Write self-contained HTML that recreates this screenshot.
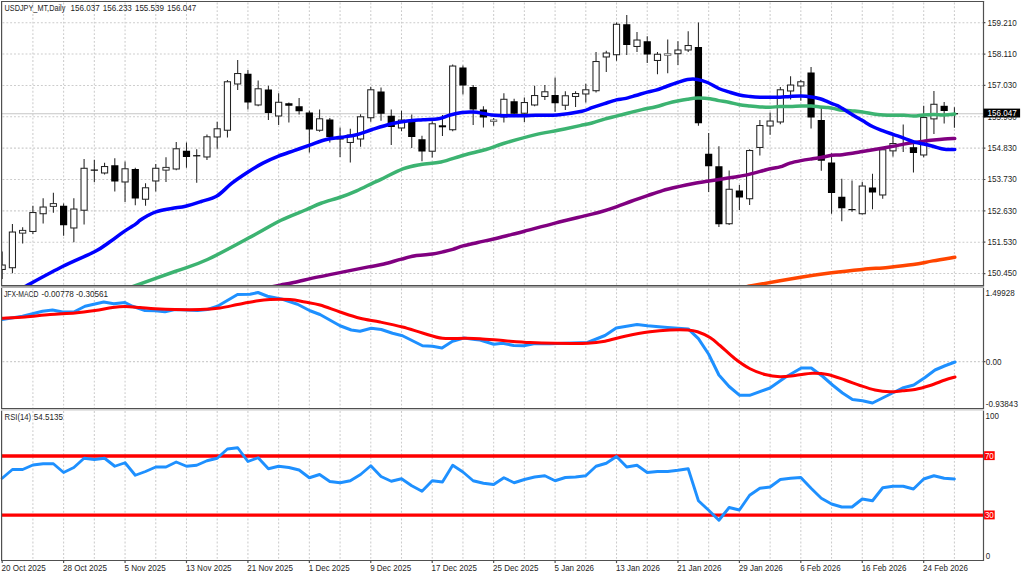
<!DOCTYPE html>
<html><head><meta charset="utf-8"><title>USDJPY_MT Daily</title>
<style>html,body{margin:0;padding:0;background:#fff;overflow:hidden}body{width:1024px;height:576px;position:relative;font-family:"Liberation Sans",sans-serif}</style></head>
<body>
<svg width="1024" height="576" viewBox="0 0 1024 576" style="position:absolute;left:0;top:0">
<rect width="1024" height="576" fill="#fff"/>
<defs>
<clipPath id="cm"><rect x="2.1" y="2.1" width="980.8" height="283"/></clipPath>
<clipPath id="c2"><rect x="2.1" y="288" width="980.8" height="120"/></clipPath>
<clipPath id="c3"><rect x="2.1" y="411" width="980.8" height="149.5"/></clipPath>
</defs>
<g stroke="#cccccc" stroke-width="1.05" stroke-dasharray="1.9 1.94" fill="none">
<path d="M2.5 22.7 H983.5"/>
<path d="M2.5 54.06 H983.5"/>
<path d="M2.5 85.42 H983.5"/>
<path d="M2.5 116.78 H983.5"/>
<path d="M2.5 148.14 H983.5"/>
<path d="M2.5 179.5 H983.5"/>
<path d="M2.5 210.86 H983.5"/>
<path d="M2.5 242.22 H983.5"/>
<path d="M2.5 273.58 H983.5"/>
<path d="M2.5 361.6 H983.5"/>
<path d="M32.9 2.5 V285"/>
<path d="M32.9 288.5 V408"/>
<path d="M32.9 411 V560"/>
<path d="M63.61 2.5 V285"/>
<path d="M63.61 288.5 V408"/>
<path d="M63.61 411 V560"/>
<path d="M94.33 2.5 V285"/>
<path d="M94.33 288.5 V408"/>
<path d="M94.33 411 V560"/>
<path d="M125.05 2.5 V285"/>
<path d="M125.05 288.5 V408"/>
<path d="M125.05 411 V560"/>
<path d="M155.77 2.5 V285"/>
<path d="M155.77 288.5 V408"/>
<path d="M155.77 411 V560"/>
<path d="M186.48 2.5 V285"/>
<path d="M186.48 288.5 V408"/>
<path d="M186.48 411 V560"/>
<path d="M217.2 2.5 V285"/>
<path d="M217.2 288.5 V408"/>
<path d="M217.2 411 V560"/>
<path d="M247.92 2.5 V285"/>
<path d="M247.92 288.5 V408"/>
<path d="M247.92 411 V560"/>
<path d="M278.63 2.5 V285"/>
<path d="M278.63 288.5 V408"/>
<path d="M278.63 411 V560"/>
<path d="M309.35 2.5 V285"/>
<path d="M309.35 288.5 V408"/>
<path d="M309.35 411 V560"/>
<path d="M340.07 2.5 V285"/>
<path d="M340.07 288.5 V408"/>
<path d="M340.07 411 V560"/>
<path d="M370.78 2.5 V285"/>
<path d="M370.78 288.5 V408"/>
<path d="M370.78 411 V560"/>
<path d="M401.5 2.5 V285"/>
<path d="M401.5 288.5 V408"/>
<path d="M401.5 411 V560"/>
<path d="M432.22 2.5 V285"/>
<path d="M432.22 288.5 V408"/>
<path d="M432.22 411 V560"/>
<path d="M462.94 2.5 V285"/>
<path d="M462.94 288.5 V408"/>
<path d="M462.94 411 V560"/>
<path d="M493.65 2.5 V285"/>
<path d="M493.65 288.5 V408"/>
<path d="M493.65 411 V560"/>
<path d="M524.37 2.5 V285"/>
<path d="M524.37 288.5 V408"/>
<path d="M524.37 411 V560"/>
<path d="M555.09 2.5 V285"/>
<path d="M555.09 288.5 V408"/>
<path d="M555.09 411 V560"/>
<path d="M585.8 2.5 V285"/>
<path d="M585.8 288.5 V408"/>
<path d="M585.8 411 V560"/>
<path d="M616.52 2.5 V285"/>
<path d="M616.52 288.5 V408"/>
<path d="M616.52 411 V560"/>
<path d="M647.24 2.5 V285"/>
<path d="M647.24 288.5 V408"/>
<path d="M647.24 411 V560"/>
<path d="M677.95 2.5 V285"/>
<path d="M677.95 288.5 V408"/>
<path d="M677.95 411 V560"/>
<path d="M708.67 2.5 V285"/>
<path d="M708.67 288.5 V408"/>
<path d="M708.67 411 V560"/>
<path d="M739.39 2.5 V285"/>
<path d="M739.39 288.5 V408"/>
<path d="M739.39 411 V560"/>
<path d="M770.11 2.5 V285"/>
<path d="M770.11 288.5 V408"/>
<path d="M770.11 411 V560"/>
<path d="M800.82 2.5 V285"/>
<path d="M800.82 288.5 V408"/>
<path d="M800.82 411 V560"/>
<path d="M831.54 2.5 V285"/>
<path d="M831.54 288.5 V408"/>
<path d="M831.54 411 V560"/>
<path d="M862.26 2.5 V285"/>
<path d="M862.26 288.5 V408"/>
<path d="M862.26 411 V560"/>
<path d="M892.97 2.5 V285"/>
<path d="M892.97 288.5 V408"/>
<path d="M892.97 411 V560"/>
<path d="M923.69 2.5 V285"/>
<path d="M923.69 288.5 V408"/>
<path d="M923.69 411 V560"/>
<path d="M954.41 2.5 V285"/>
<path d="M954.41 288.5 V408"/>
<path d="M954.41 411 V560"/>
</g>
<path d="M2 113.7 H1019.5" stroke="#c6c6c6" stroke-width="1.05" fill="none"/>
<g clip-path="url(#cm)">
<path d="M2.18 251.5 V279" stroke="#242424" stroke-width="1.05"/>
<rect x="-0.89" y="265.02" width="6.15" height="4.45" fill="#fff" stroke="#242424" stroke-width="1.05"/>
<path d="M12.42 224 V273.25" stroke="#242424" stroke-width="1.05"/>
<rect x="9.34" y="232.03" width="6.15" height="35.7" fill="#fff" stroke="#242424" stroke-width="1.05"/>
<path d="M22.66 227.25 V243.5" stroke="#242424" stroke-width="1.05"/>
<rect x="19.53" y="230.38" width="6.25" height="2.75" fill="#fff" stroke="#242424" stroke-width="0.95"/>
<path d="M32.9 205.75 V234" stroke="#242424" stroke-width="1.05"/>
<rect x="29.82" y="212.53" width="6.15" height="18.95" fill="#fff" stroke="#242424" stroke-width="1.05"/>
<path d="M43.14 198.25 V223.5" stroke="#242424" stroke-width="1.05"/>
<rect x="40.06" y="207.03" width="6.15" height="6.7" fill="#fff" stroke="#242424" stroke-width="1.05"/>
<path d="M53.38 192.75 V212.75" stroke="#242424" stroke-width="1.05"/>
<rect x="50.25" y="203.62" width="6.25" height="2.75" fill="#fff" stroke="#242424" stroke-width="0.95"/>
<path d="M63.61 203.5 V235.75" stroke="#242424" stroke-width="1.05"/>
<rect x="60.01" y="205.75" width="7.2" height="19.5" fill="#000"/>
<path d="M73.85 198.25 V242.25" stroke="#242424" stroke-width="1.05"/>
<rect x="70.78" y="209.03" width="6.15" height="18.95" fill="#fff" stroke="#242424" stroke-width="1.05"/>
<path d="M84.09 159 V224.5" stroke="#242424" stroke-width="1.05"/>
<rect x="81.02" y="168.28" width="6.15" height="41.95" fill="#fff" stroke="#242424" stroke-width="1.05"/>
<path d="M94.33 159.75 V182.25" stroke="#242424" stroke-width="1.05"/>
<path d="M90.73 170.12 H97.93" stroke="#111" stroke-width="1.3"/>
<path d="M104.57 162.75 V174.5" stroke="#242424" stroke-width="1.05"/>
<rect x="101.5" y="166.53" width="6.15" height="6.45" fill="#fff" stroke="#242424" stroke-width="1.05"/>
<path d="M114.81 158.25 V191.5" stroke="#242424" stroke-width="1.05"/>
<rect x="111.21" y="165.25" width="7.2" height="16.25" fill="#000"/>
<path d="M125.05 161.5 V202" stroke="#242424" stroke-width="1.05"/>
<rect x="121.97" y="168.78" width="6.15" height="13.2" fill="#fff" stroke="#242424" stroke-width="1.05"/>
<path d="M135.29 167.75 V205.25" stroke="#242424" stroke-width="1.05"/>
<rect x="131.69" y="169" width="7.2" height="29.5" fill="#000"/>
<path d="M145.53 183.25 V205.75" stroke="#242424" stroke-width="1.05"/>
<rect x="142.45" y="187.78" width="6.15" height="11.45" fill="#fff" stroke="#242424" stroke-width="1.05"/>
<path d="M155.77 164 V191.5" stroke="#242424" stroke-width="1.05"/>
<rect x="152.69" y="168.28" width="6.15" height="12.7" fill="#fff" stroke="#242424" stroke-width="1.05"/>
<path d="M166 157.25 V182" stroke="#242424" stroke-width="1.05"/>
<rect x="162.88" y="167.38" width="6.25" height="2.75" fill="#fff" stroke="#242424" stroke-width="0.95"/>
<path d="M176.24 142 V170.25" stroke="#242424" stroke-width="1.05"/>
<rect x="173.17" y="148.78" width="6.15" height="20.2" fill="#fff" stroke="#242424" stroke-width="1.05"/>
<path d="M186.48 142.5 V167.75" stroke="#242424" stroke-width="1.05"/>
<rect x="182.88" y="150.75" width="7.2" height="6.25" fill="#000"/>
<path d="M196.72 149.25 V182.75" stroke="#242424" stroke-width="1.05"/>
<path d="M193.12 155.75 H200.32" stroke="#111" stroke-width="1.3"/>
<path d="M206.96 134.5 V160" stroke="#242424" stroke-width="1.05"/>
<rect x="203.89" y="136.78" width="6.15" height="20.2" fill="#fff" stroke="#242424" stroke-width="1.05"/>
<path d="M217.2 121.75 V148.75" stroke="#242424" stroke-width="1.05"/>
<rect x="214.12" y="128.78" width="6.15" height="8.2" fill="#fff" stroke="#242424" stroke-width="1.05"/>
<path d="M227.44 80 V137.5" stroke="#242424" stroke-width="1.05"/>
<rect x="224.36" y="81.78" width="6.15" height="48.45" fill="#fff" stroke="#242424" stroke-width="1.05"/>
<path d="M237.68 60 V90" stroke="#242424" stroke-width="1.05"/>
<rect x="234.6" y="73.53" width="6.15" height="10.45" fill="#fff" stroke="#242424" stroke-width="1.05"/>
<path d="M247.92 70 V109.5" stroke="#242424" stroke-width="1.05"/>
<rect x="244.32" y="73.75" width="7.2" height="28.75" fill="#000"/>
<path d="M258.16 80.5 V106.25" stroke="#242424" stroke-width="1.05"/>
<rect x="255.08" y="88.78" width="6.15" height="16.2" fill="#fff" stroke="#242424" stroke-width="1.05"/>
<path d="M268.39 85.75 V120" stroke="#242424" stroke-width="1.05"/>
<rect x="264.79" y="89.5" width="7.2" height="23.5" fill="#000"/>
<path d="M278.63 93.25 V125" stroke="#242424" stroke-width="1.05"/>
<rect x="275.56" y="102.28" width="6.15" height="13.7" fill="#fff" stroke="#242424" stroke-width="1.05"/>
<path d="M288.87 102.5 V122.5" stroke="#242424" stroke-width="1.05"/>
<rect x="285.27" y="103.25" width="7.2" height="2.5" fill="#000"/>
<path d="M299.11 98 V114.5" stroke="#242424" stroke-width="1.05"/>
<rect x="295.51" y="106.25" width="7.2" height="5" fill="#000"/>
<path d="M309.35 110.75 V152.5" stroke="#242424" stroke-width="1.05"/>
<rect x="305.75" y="112.5" width="7.2" height="17" fill="#000"/>
<path d="M319.59 109.5 V131.75" stroke="#242424" stroke-width="1.05"/>
<rect x="316.51" y="118.78" width="6.15" height="11.45" fill="#fff" stroke="#242424" stroke-width="1.05"/>
<path d="M329.83 118 V142.5" stroke="#242424" stroke-width="1.05"/>
<rect x="326.23" y="119.5" width="7.2" height="17.5" fill="#000"/>
<path d="M340.07 127.5 V157" stroke="#242424" stroke-width="1.05"/>
<path d="M336.47 138.88 H343.67" stroke="#111" stroke-width="1.3"/>
<path d="M350.31 128.75 V162.5" stroke="#242424" stroke-width="1.05"/>
<rect x="347.23" y="135.03" width="6.15" height="7.45" fill="#fff" stroke="#242424" stroke-width="1.05"/>
<path d="M360.55 114.25 V146.75" stroke="#242424" stroke-width="1.05"/>
<rect x="357.47" y="116.78" width="6.15" height="22.2" fill="#fff" stroke="#242424" stroke-width="1.05"/>
<path d="M370.78 86.75 V121.75" stroke="#242424" stroke-width="1.05"/>
<rect x="367.71" y="89.78" width="6.15" height="27.95" fill="#fff" stroke="#242424" stroke-width="1.05"/>
<path d="M381.02 87.5 V120.75" stroke="#242424" stroke-width="1.05"/>
<rect x="377.42" y="91.5" width="7.2" height="22.25" fill="#000"/>
<path d="M391.26 109.5 V145" stroke="#242424" stroke-width="1.05"/>
<rect x="387.66" y="115.75" width="7.2" height="11.25" fill="#000"/>
<path d="M401.5 110.75 V131.25" stroke="#242424" stroke-width="1.05"/>
<rect x="398.43" y="120.03" width="6.15" height="7.95" fill="#fff" stroke="#242424" stroke-width="1.05"/>
<path d="M411.74 114.5 V148" stroke="#242424" stroke-width="1.05"/>
<rect x="408.14" y="121.75" width="7.2" height="15.25" fill="#000"/>
<path d="M421.98 135.75 V161.25" stroke="#242424" stroke-width="1.05"/>
<rect x="418.38" y="139.25" width="7.2" height="12.25" fill="#000"/>
<path d="M432.22 121.25 V157.5" stroke="#242424" stroke-width="1.05"/>
<rect x="429.14" y="123.78" width="6.15" height="27.45" fill="#fff" stroke="#242424" stroke-width="1.05"/>
<path d="M442.46 115 V136" stroke="#242424" stroke-width="1.05"/>
<rect x="438.86" y="125.3" width="7.2" height="2" fill="#000"/>
<path d="M452.7 64.5 V131.25" stroke="#242424" stroke-width="1.05"/>
<rect x="449.62" y="66.03" width="6.15" height="63.7" fill="#fff" stroke="#242424" stroke-width="1.05"/>
<path d="M462.94 65.5 V94.5" stroke="#242424" stroke-width="1.05"/>
<rect x="459.34" y="67.5" width="7.2" height="18" fill="#000"/>
<path d="M473.17 85 V125" stroke="#242424" stroke-width="1.05"/>
<rect x="469.57" y="87" width="7.2" height="22.5" fill="#000"/>
<path d="M483.41 106.25 V127.5" stroke="#242424" stroke-width="1.05"/>
<rect x="479.81" y="109.5" width="7.2" height="8" fill="#000"/>
<path d="M493.65 118 V125.75" stroke="#242424" stroke-width="1.05"/>
<rect x="490.5" y="119.95" width="6.3" height="1.6" fill="#fff" stroke="#6a6a6a" stroke-width="0.9"/>
<path d="M503.89 93.25 V122.5" stroke="#242424" stroke-width="1.05"/>
<rect x="500.82" y="99.28" width="6.15" height="17.7" fill="#fff" stroke="#242424" stroke-width="1.05"/>
<path d="M514.13 98.75 V115" stroke="#242424" stroke-width="1.05"/>
<rect x="510.53" y="101.25" width="7.2" height="12.5" fill="#000"/>
<path d="M524.37 97.5 V122" stroke="#242424" stroke-width="1.05"/>
<rect x="521.29" y="102.53" width="6.15" height="10.7" fill="#fff" stroke="#242424" stroke-width="1.05"/>
<path d="M534.61 85.75 V106.25" stroke="#242424" stroke-width="1.05"/>
<rect x="531.53" y="95.53" width="6.15" height="9.45" fill="#fff" stroke="#242424" stroke-width="1.05"/>
<path d="M544.85 85 V100" stroke="#242424" stroke-width="1.05"/>
<rect x="541.77" y="91.78" width="6.15" height="4.7" fill="#fff" stroke="#242424" stroke-width="1.05"/>
<path d="M555.09 77.5 V111.75" stroke="#242424" stroke-width="1.05"/>
<rect x="551.49" y="95" width="7.2" height="8.25" fill="#000"/>
<path d="M565.33 91.25 V110" stroke="#242424" stroke-width="1.05"/>
<rect x="562.25" y="95.78" width="6.15" height="9.45" fill="#fff" stroke="#242424" stroke-width="1.05"/>
<path d="M575.56 91.25 V107" stroke="#242424" stroke-width="1.05"/>
<rect x="572.49" y="93.53" width="6.15" height="2.95" fill="#fff" stroke="#242424" stroke-width="1.05"/>
<path d="M585.8 83.75 V102.5" stroke="#242424" stroke-width="1.05"/>
<rect x="582.73" y="89.78" width="6.15" height="4.2" fill="#fff" stroke="#242424" stroke-width="1.05"/>
<path d="M596.04 52 V92.5" stroke="#242424" stroke-width="1.05"/>
<rect x="592.97" y="61.52" width="6.15" height="29.2" fill="#fff" stroke="#242424" stroke-width="1.05"/>
<path d="M606.28 50.75 V72" stroke="#242424" stroke-width="1.05"/>
<rect x="603.21" y="53.02" width="6.15" height="3.95" fill="#fff" stroke="#242424" stroke-width="1.05"/>
<path d="M616.52 22.5 V60.75" stroke="#242424" stroke-width="1.05"/>
<rect x="613.44" y="24.27" width="6.15" height="30.45" fill="#fff" stroke="#242424" stroke-width="1.05"/>
<path d="M626.76 15 V55" stroke="#242424" stroke-width="1.05"/>
<rect x="623.16" y="24.25" width="7.2" height="20.75" fill="#000"/>
<path d="M637 32 V52" stroke="#242424" stroke-width="1.05"/>
<rect x="633.92" y="40.02" width="6.15" height="6.45" fill="#fff" stroke="#242424" stroke-width="1.05"/>
<path d="M647.24 36.25 V63" stroke="#242424" stroke-width="1.05"/>
<rect x="643.64" y="41.25" width="7.2" height="13.25" fill="#000"/>
<path d="M657.48 52 V74.25" stroke="#242424" stroke-width="1.05"/>
<rect x="654.4" y="54.27" width="6.15" height="6.2" fill="#fff" stroke="#242424" stroke-width="1.05"/>
<path d="M667.72 39.5 V73.25" stroke="#242424" stroke-width="1.05"/>
<rect x="664.57" y="53.7" width="6.3" height="1.6" fill="#fff" stroke="#6a6a6a" stroke-width="0.9"/>
<path d="M677.95 41.25 V65" stroke="#242424" stroke-width="1.05"/>
<rect x="674.88" y="50.02" width="6.15" height="3.7" fill="#fff" stroke="#242424" stroke-width="1.05"/>
<path d="M688.19 31.25 V52" stroke="#242424" stroke-width="1.05"/>
<rect x="685.12" y="45.52" width="6.15" height="4.45" fill="#fff" stroke="#242424" stroke-width="1.05"/>
<path d="M698.43 22.5 V125.75" stroke="#242424" stroke-width="1.05"/>
<rect x="694.83" y="47" width="7.2" height="76.25" fill="#000"/>
<path d="M708.67 133 V192" stroke="#242424" stroke-width="1.05"/>
<rect x="705.07" y="153.75" width="7.2" height="12.5" fill="#000"/>
<path d="M718.91 146.25 V227" stroke="#242424" stroke-width="1.05"/>
<rect x="715.31" y="166.25" width="7.2" height="58" fill="#000"/>
<path d="M729.15 170.5 V225" stroke="#242424" stroke-width="1.05"/>
<rect x="726.07" y="189.28" width="6.15" height="34.45" fill="#fff" stroke="#242424" stroke-width="1.05"/>
<path d="M739.39 185 V210" stroke="#242424" stroke-width="1.05"/>
<rect x="735.79" y="190.5" width="7.2" height="7" fill="#000"/>
<path d="M749.63 149.25 V205" stroke="#242424" stroke-width="1.05"/>
<rect x="746.55" y="150.53" width="6.15" height="48.2" fill="#fff" stroke="#242424" stroke-width="1.05"/>
<path d="M759.87 120 V155.5" stroke="#242424" stroke-width="1.05"/>
<rect x="756.79" y="125.53" width="6.15" height="21.95" fill="#fff" stroke="#242424" stroke-width="1.05"/>
<path d="M770.11 112.5 V134.75" stroke="#242424" stroke-width="1.05"/>
<rect x="767.03" y="121.03" width="6.15" height="4.95" fill="#fff" stroke="#242424" stroke-width="1.05"/>
<path d="M780.34 87 V124.25" stroke="#242424" stroke-width="1.05"/>
<rect x="777.27" y="89.78" width="6.15" height="32.2" fill="#fff" stroke="#242424" stroke-width="1.05"/>
<path d="M790.58 76.25 V99.5" stroke="#242424" stroke-width="1.05"/>
<rect x="787.51" y="85.03" width="6.15" height="5.95" fill="#fff" stroke="#242424" stroke-width="1.05"/>
<path d="M800.82 80 V100.75" stroke="#242424" stroke-width="1.05"/>
<rect x="797.75" y="81.78" width="6.15" height="4.2" fill="#fff" stroke="#242424" stroke-width="1.05"/>
<path d="M811.06 67 V128.5" stroke="#242424" stroke-width="1.05"/>
<rect x="807.46" y="72.5" width="7.2" height="45" fill="#000"/>
<path d="M821.3 107.5 V170.75" stroke="#242424" stroke-width="1.05"/>
<rect x="817.7" y="120" width="7.2" height="40.75" fill="#000"/>
<path d="M831.54 153.25 V213.75" stroke="#242424" stroke-width="1.05"/>
<rect x="827.94" y="162.5" width="7.2" height="30.5" fill="#000"/>
<path d="M841.78 178.75 V221.25" stroke="#242424" stroke-width="1.05"/>
<rect x="838.18" y="196.75" width="7.2" height="11.5" fill="#000"/>
<path d="M852.02 180.5 V211.75" stroke="#242424" stroke-width="1.05"/>
<path d="M848.42 209.62 H855.62" stroke="#111" stroke-width="1.3"/>
<path d="M862.26 181.75 V214.5" stroke="#242424" stroke-width="1.05"/>
<rect x="859.18" y="186.03" width="6.15" height="27.7" fill="#fff" stroke="#242424" stroke-width="1.05"/>
<path d="M872.5 173.75 V209.25" stroke="#242424" stroke-width="1.05"/>
<rect x="868.89" y="187.5" width="7.2" height="5" fill="#000"/>
<path d="M882.73 148.75 V198.75" stroke="#242424" stroke-width="1.05"/>
<rect x="879.66" y="149.78" width="6.15" height="45.2" fill="#fff" stroke="#242424" stroke-width="1.05"/>
<path d="M892.97 133 V156.5" stroke="#242424" stroke-width="1.05"/>
<rect x="889.9" y="143.53" width="6.15" height="7.35" fill="#fff" stroke="#242424" stroke-width="1.05"/>
<path d="M903.21 124.5 V152" stroke="#242424" stroke-width="1.05"/>
<path d="M913.45 141.7 V172.5" stroke="#242424" stroke-width="1.05"/>
<rect x="909.85" y="147.2" width="7.2" height="5.8" fill="#000"/>
<path d="M923.69 105.8 V157.3" stroke="#242424" stroke-width="1.05"/>
<rect x="920.62" y="117.53" width="6.15" height="37.45" fill="#fff" stroke="#242424" stroke-width="1.05"/>
<path d="M933.93 91 V134" stroke="#242424" stroke-width="1.05"/>
<rect x="930.85" y="104.28" width="6.15" height="14.6" fill="#fff" stroke="#242424" stroke-width="1.05"/>
<path d="M944.17 101.9 V123.4" stroke="#242424" stroke-width="1.05"/>
<rect x="940.57" y="105.8" width="7.2" height="5.2" fill="#000"/>
<path d="M954.41 107.3 V127.7" stroke="#242424" stroke-width="1.05"/>
<path d="M950.81 113.7 H958.01" stroke="#111" stroke-width="1.3"/>
<path d="M749.5 286.2 C749.83 286.13 742.97 287.29 751.5 285.8 C760.03 284.31 787.35 279.43 800.7 277.25 C814.05 275.07 821.3 274.06 831.6 272.75 C841.9 271.44 853.12 270.29 862.5 269.4 C871.88 268.51 879.45 268.2 887.9 267.4 C896.35 266.6 905.7 265.68 913.2 264.6 C920.7 263.52 925.97 262.12 932.9 260.9 C939.83 259.68 951.15 257.9 954.8 257.3" stroke="#ff4500" stroke-width="3.5" fill="none" stroke-linecap="round" stroke-linejoin="round"/>
<path d="M270 287.2 C271.83 286.83 277.08 285.78 281 285 C284.92 284.22 287.25 283.85 293.5 282.5 C299.75 281.15 310.17 278.67 318.5 276.9 C326.83 275.13 335.17 273.57 343.5 271.9 C351.83 270.23 361.75 268.22 368.5 266.9 C375.25 265.58 378.5 265.3 384 264 C389.5 262.7 396.08 260.5 401.5 259.1 C406.92 257.7 411.33 256.45 416.5 255.6 C421.67 254.75 428.12 254.62 432.5 254 C436.88 253.38 439.38 252.67 442.75 251.9 C446.12 251.13 449.38 250.4 452.75 249.4 C456.12 248.4 458.83 247.05 463 245.9 C467.17 244.75 472.65 243.65 477.75 242.5 C482.85 241.35 487.89 240.35 493.6 239 C499.31 237.65 506.85 235.69 512 234.4 C517.15 233.11 517.32 233.13 524.5 231.25 C531.68 229.37 544.89 225.71 555.1 223.1 C565.31 220.49 578.52 217.37 585.75 215.6 C592.98 213.83 593.41 213.97 598.5 212.5 C603.59 211.03 610.84 208.68 616.3 206.8 C621.76 204.93 626.05 203.12 631.25 201.25 C636.45 199.38 642.29 197.38 647.5 195.6 C652.71 193.82 657.5 192.05 662.5 190.6 C667.5 189.15 672.29 188.08 677.5 186.9 C682.71 185.72 688.54 184.48 693.75 183.5 C698.96 182.52 703.04 181.9 708.75 181 C714.46 180.1 722.89 178.89 728 178.1 C733.11 177.31 735.73 176.92 739.4 176.25 C743.07 175.58 744.83 175.35 750 174.1 C755.17 172.85 765.4 169.95 770.4 168.75 C775.4 167.55 776.73 167.84 780 166.9 C783.27 165.96 786.5 164.15 790 163.1 C793.5 162.05 797.25 161.32 801 160.6 C804.75 159.88 809.12 159.27 812.5 158.75 C815.88 158.23 818.07 158.07 821.25 157.5 C824.43 156.93 828.48 155.73 831.6 155.3 C834.73 154.87 836.52 155.25 840 154.9 C843.48 154.55 848.75 153.77 852.5 153.2 C856.25 152.63 858.33 152.2 862.5 151.5 C866.67 150.8 872.4 149.88 877.5 149 C882.6 148.12 888.73 147.07 893.1 146.25 C897.48 145.43 900.31 144.72 903.75 144.1 C907.19 143.47 910.42 142.97 913.75 142.5 C917.08 142.03 920.42 141.67 923.75 141.25 C927.08 140.83 930.31 140.38 933.75 140 C937.19 139.62 940.9 139.25 944.4 139 C947.9 138.75 953.02 138.58 954.75 138.5" stroke="#800080" stroke-width="3.5" fill="none" stroke-linecap="round" stroke-linejoin="round"/>
<path d="M131.5 287 C138.75 284.42 162.33 276.08 175 271.5 C187.67 266.92 194 265.75 207.5 259.5 C221 253.25 243.75 240.54 256 234 C268.25 227.46 272.67 224.29 281 220.25 C289.33 216.21 299.33 212.58 306 209.75 C312.67 206.92 315.17 205.38 321 203.25 C326.83 201.12 335.07 199.07 341 197 C346.93 194.93 351.39 193.08 356.6 190.8 C361.81 188.52 368.18 185.22 372.25 183.3 C376.32 181.38 375.79 181.75 381 179.3 C386.21 176.85 396.83 171.07 403.5 168.6 C410.17 166.13 414.75 165.6 421 164.5 C427.25 163.4 433.92 163.54 441 162 C448.08 160.46 456 157.33 463.5 155.25 C471 153.17 479.35 151.46 486 149.5 C492.65 147.54 495.28 145.93 503.4 143.5 C511.52 141.07 525.58 137.1 534.7 134.9 C543.82 132.7 550.55 131.85 558.1 130.3 C565.65 128.75 574.35 126.82 580 125.6 C585.65 124.38 587.92 124.08 592 123 C596.08 121.92 600.43 120.25 604.5 119.1 C608.57 117.95 612.23 117.17 616.4 116.1 C620.57 115.03 625.23 113.78 629.5 112.7 C633.77 111.62 637.58 110.59 642 109.6 C646.42 108.61 651.75 107.78 656 106.75 C660.25 105.72 663.92 104.36 667.5 103.4 C671.08 102.44 674.17 101.7 677.5 101 C680.83 100.3 684.17 99.68 687.5 99.2 C690.83 98.72 693.75 98.18 697.5 98.1 C701.25 98.02 706.46 98.28 710 98.7 C713.54 99.12 715.62 100.01 718.75 100.6 C721.88 101.19 725.31 101.56 728.75 102.25 C732.19 102.94 735.86 104.12 739.4 104.75 C742.94 105.38 746.57 105.64 750 106 C753.43 106.36 756.67 106.69 760 106.9 C763.33 107.11 766.67 107.32 770 107.25 C773.33 107.18 776.67 106.62 780 106.5 C783.33 106.38 786.46 106.58 790 106.5 C793.54 106.42 797.71 106.08 801.25 106 C804.79 105.92 808.12 105.85 811.25 106 C814.38 106.15 817.21 106.65 820 106.9 C822.79 107.15 825.58 107.22 828 107.5 C830.42 107.78 832.5 108.18 834.5 108.6 C836.5 109.02 837 109.62 840 110 C843 110.38 848.75 110.58 852.5 110.9 C856.25 111.22 858.33 111.32 862.5 111.9 C866.67 112.48 872.4 113.84 877.5 114.4 C882.6 114.96 888.73 115.11 893.1 115.25 C897.48 115.39 900.31 115.12 903.75 115.25 C907.19 115.38 910.42 116.04 913.75 116 C917.08 115.96 920.42 115.23 923.75 115 C927.08 114.77 930.31 114.6 933.75 114.6 C937.19 114.6 940.9 115.08 944.4 115 C947.9 114.92 953.02 114.25 954.75 114.1" stroke="#3cb371" stroke-width="3.5" fill="none" stroke-linecap="round" stroke-linejoin="round"/>
<path d="M24.5 286.8 C30.83 283.42 50.75 272.38 62.5 266.5 C74.25 260.62 87.15 255.58 95 251.5 C102.85 247.42 105.43 244.87 109.6 242 C113.77 239.13 117.37 236.2 120 234.3 C122.63 232.4 122.8 232.3 125.4 230.6 C128 228.9 133.15 225.82 135.6 224.1 C138.05 222.38 138.27 221.6 140.1 220.3 C141.93 219 143.97 217.72 146.6 216.3 C149.23 214.88 151.73 213.1 155.9 211.8 C160.07 210.5 166.65 209.43 171.6 208.5 C176.55 207.57 180.66 207.37 185.6 206.2 C190.54 205.03 196.03 203.2 201.25 201.5 C206.47 199.8 211.84 199.02 216.9 196 C221.96 192.98 226.54 187.32 231.6 183.4 C236.66 179.48 242.03 175.88 247.25 172.5 C252.47 169.12 257.69 165.83 262.9 163.1 C268.11 160.37 273.3 158.18 278.5 156.1 C283.7 154.02 288.89 152.42 294.1 150.6 C299.31 148.78 304.53 147.02 309.75 145.2 C314.97 143.38 320.19 141.02 325.4 139.7 C330.61 138.38 335.8 138.13 341 137.3 C346.2 136.47 351.39 136 356.6 134.7 C361.81 133.4 366.42 131.32 372.25 129.5 C378.08 127.68 385.77 125.22 391.6 123.8 C397.43 122.38 402.03 121.67 407.25 121 C412.47 120.33 417.69 120.17 422.9 119.8 C428.11 119.43 434.08 119.57 438.5 118.8 C442.92 118.03 445.5 116.25 449.4 115.2 C453.3 114.15 457.98 113.03 461.9 112.5 C465.82 111.97 469.25 111.83 472.9 112 C476.55 112.17 480.68 113 483.8 113.5 C486.92 114 487.43 114.63 491.6 115 C495.77 115.37 503.33 115.58 508.8 115.7 C514.27 115.82 519.87 115.78 524.4 115.7 C528.93 115.62 530.57 115.32 536 115.2 C541.43 115.08 549.33 115.66 557 115 C564.67 114.34 576.17 112.47 582 111.25 C587.83 110.03 588.25 108.98 592 107.7 C595.75 106.42 600.43 104.9 604.5 103.6 C608.57 102.3 613.07 100.73 616.4 99.9 C619.73 99.07 621.27 99.33 624.5 98.6 C627.73 97.87 631.95 96.58 635.75 95.5 C639.55 94.42 643.92 92.98 647.3 92.1 C650.67 91.22 652.63 91.22 656 90.2 C659.37 89.18 663.92 87.28 667.5 86 C671.08 84.72 674.17 83.58 677.5 82.5 C680.83 81.42 684.17 80.02 687.5 79.5 C690.83 78.98 694.17 78.9 697.5 79.4 C700.83 79.9 703.96 80.98 707.5 82.5 C711.04 84.02 715.21 86.93 718.75 88.5 C722.29 90.07 725.31 90.82 728.75 91.9 C732.19 92.98 735.86 94.23 739.4 95 C742.94 95.77 746.57 96.12 750 96.5 C753.43 96.88 756.67 97.12 760 97.25 C763.33 97.38 766.67 97.3 770 97.3 C773.33 97.3 776.67 97.38 780 97.25 C783.33 97.12 786.46 96.71 790 96.5 C793.54 96.29 797.71 95.93 801.25 96 C804.79 96.07 808.12 96.44 811.25 96.9 C814.38 97.36 817.21 97.92 820 98.75 C822.79 99.58 825.58 100.94 828 101.9 C830.42 102.86 832.5 103.67 834.5 104.5 C836.5 105.33 837 105.19 840 106.9 C843 108.61 848.75 112.47 852.5 114.75 C856.25 117.03 859.17 118.64 862.5 120.6 C865.83 122.56 869.17 124.83 872.5 126.5 C875.83 128.17 879.07 129.28 882.5 130.6 C885.93 131.92 889.56 133.15 893.1 134.4 C896.64 135.65 900.31 136.85 903.75 138.1 C907.19 139.35 910.42 140.92 913.75 141.9 C917.08 142.88 920.42 143.23 923.75 144 C927.08 144.77 930.31 145.62 933.75 146.5 C937.19 147.38 940.9 148.82 944.4 149.3 C947.9 149.78 953.02 149.38 954.75 149.4" stroke="#0000ff" stroke-width="3.5" fill="none" stroke-linecap="round" stroke-linejoin="round"/>
</g>
<g clip-path="url(#c2)" fill="none" stroke-linecap="round" stroke-linejoin="round">
<polyline points="2,319.5 22.5,316.25 42.5,311.25 52.5,310 62.5,312 73.75,312 85,306.25 103.75,302 113.75,303.75 125,302.5 132.5,306.25 145,310.5 155,310.75 165,311.75 175,309.5 186.25,310 197.5,310.5 207.5,309.5 217.5,306.25 237.5,294.5 250,294.25 258,292.5 267.5,296.25 282.5,299.25 297.5,304.25 310,310.75 320,314.5 340,325.75 351.25,330 360,331.25 371.25,328.25 381.25,329.5 392.5,333.25 402.5,335.75 412.5,340.75 422.5,345.75 432.5,346.25 442,348 452.5,341.25 463.75,338 475,339.5 480,340 493.75,344.25 502.5,343.25 513.75,345.5 523.75,345.75 533.75,343.75 550,343.75 587.5,342.5 605,335.5 616.25,328 637,324.5 647.5,325.75 667.5,327.5 688.2,328.9 698.4,338.6 708.7,354.25 718.9,375 729.1,386.5 739.4,395.2 749.6,395.3 770,388 785,377.5 801.25,368 811.25,368 822.5,376.25 832.5,385 842.5,393 852.5,399.5 862.5,400.75 872.5,403 882.5,398 892.5,393 902.5,388 913.75,385 925,377.5 935,370 945,365.75 955,362" stroke="#1e90ff" stroke-width="3"/>
<path d="M2 318.25 C5.83 318.04 17 317.62 25 317 C33 316.38 41.67 315.17 50 314.5 C58.33 313.83 67.5 313.67 75 313 C82.5 312.33 88.75 311.42 95 310.5 C101.25 309.58 107.5 308.17 112.5 307.5 C117.5 306.83 120.42 306.5 125 306.5 C129.58 306.5 135 307.12 140 307.5 C145 307.88 149.17 308.42 155 308.75 C160.83 309.08 167.5 309.38 175 309.5 C182.5 309.62 192.5 309.75 200 309.5 C207.5 309.25 213.75 308.83 220 308 C226.25 307.17 231.67 305.62 237.5 304.5 C243.33 303.38 249.58 302.08 255 301.25 C260.42 300.42 264.17 299.79 270 299.5 C275.83 299.21 284.17 299.08 290 299.5 C295.83 299.92 300 301.08 305 302 C310 302.92 314.17 303.33 320 305 C325.83 306.67 333.33 309.79 340 312 C346.67 314.21 353.33 316.58 360 318.25 C366.67 319.92 372.92 320.54 380 322 C387.08 323.46 395.42 325.17 402.5 327 C409.58 328.83 415.83 331.12 422.5 333 C429.17 334.88 435.42 337.38 442.5 338.25 C449.58 339.12 458.75 338.17 465 338.25 C471.25 338.33 473.33 338.33 480 338.75 C486.67 339.17 496.67 340.12 505 340.75 C513.33 341.38 521.67 342.08 530 342.5 C538.33 342.92 545.42 343.12 555 343.25 C564.58 343.38 579.17 343.58 587.5 343.25 C595.83 342.92 598.75 342.42 605 341.25 C611.25 340.08 617.5 337.83 625 336.25 C632.5 334.67 642.5 332.79 650 331.75 C657.5 330.71 663.75 330.29 670 330 C676.25 329.71 682.92 329.71 687.5 330 C692.08 330.29 693.75 330.5 697.5 331.75 C701.25 333 706.25 335.21 710 337.5 C713.75 339.79 715.83 341.96 720 345.5 C724.17 349.04 730 354.88 735 358.75 C740 362.62 745 366.12 750 368.75 C755 371.38 760 373.17 765 374.5 C770 375.83 775 376.58 780 376.75 C785 376.92 789.58 376.08 795 375.5 C800.42 374.92 807.08 373.42 812.5 373.25 C817.92 373.08 822.08 373.38 827.5 374.5 C832.92 375.62 839.58 378.17 845 380 C850.42 381.83 855 383.83 860 385.5 C865 387.17 870 388.96 875 390 C880 391.04 885.42 391.62 890 391.75 C894.58 391.88 898.33 391.12 902.5 390.75 C906.67 390.38 910.42 390.38 915 389.5 C919.58 388.62 925 387.08 930 385.5 C935 383.92 940.83 381.42 945 380 C949.17 378.58 953.33 377.5 955 377" stroke="#ff0000" stroke-width="3"/>
</g>
<g fill="none">
<path d="M2 456 H983.5 M2 515.2 H983.5" stroke="#ff0000" stroke-width="3.3"/>
<polyline points="2.18,478.25 12.42,469.5 22.66,469.5 32.9,465 43.14,463.75 53.38,463.75 63.61,472.5 73.85,467.5 84.09,458.25 94.33,459.5 104.57,458.25 114.81,466.25 125.05,462.75 135.29,475.25 145.53,471.5 155.77,467 166,467 176.24,462 186.48,466.25 196.72,465.25 206.96,460.75 217.2,458.25 227.44,449 237.68,447.75 247.92,461.5 258.16,457.75 268.39,468.75 278.63,466.25 288.87,467.5 299.11,470 309.35,477.75 319.59,474.5 329.83,481.5 340.07,482.75 350.31,480.75 360.55,474.5 370.78,465.75 381.02,476.5 391.26,481.25 401.5,478.75 411.74,485.75 421.98,491.25 432.22,480.75 442.46,482 452.7,465.25 462.94,472 473.17,480.75 483.41,483.25 493.65,484.5 503.89,477.75 514.13,482.75 524.37,479.5 534.61,477 544.85,475.75 555.09,480.75 565.33,477.5 575.56,477 585.8,475.75 596.04,466.25 606.28,463.25 616.52,456.5 626.76,467 637,465.25 647.24,472.5 657.48,471.5 667.72,471.5 677.95,470.25 688.19,468.75 698.43,500.75 708.67,510.25 718.91,520.25 729.15,507.5 739.39,510 749.63,495.25 759.87,488.25 770.11,487 780.34,479.5 790.58,478.25 800.82,477.5 811.06,488.25 821.3,498.25 831.54,504 841.78,507 852.02,507 862.26,499 872.5,500.75 882.73,487.75 892.97,486.25 903.21,486.25 913.45,489 923.69,479 933.93,475.75 944.17,478.25 954.41,479" stroke="#1e90ff" stroke-width="2.9" stroke-linecap="round" stroke-linejoin="round"/>
</g>
<g stroke="#505050" stroke-width="1.2" fill="none">
<path d="M1.6 1 V285.6 M1 1.5 H984.1"/>
<path d="M983.5 1 V285.6"/>
<path d="M1 285.5 H984.1"/>
<path d="M1.6 288 V408.6 M983.5 288 V408.6 M1 408.5 H984.1"/>
<path d="M1.6 410.5 V561 M983.5 410.5 V561 M1 560.5 H984.1"/>
</g>
<rect x="1.1" y="286.05" width="983" height="1.7" fill="#9c9c9c"/>
<rect x="1.1" y="409.05" width="983" height="1.5" fill="#cfcfcf"/>
<g stroke="#505050" stroke-width="1.2">
<path d="M984 22.7 h1.4"/>
<path d="M984 54.06 h1.4"/>
<path d="M984 85.42 h1.4"/>
<path d="M984 116.78 h1.4"/>
<path d="M984 148.14 h1.4"/>
<path d="M984 179.5 h1.4"/>
<path d="M984 210.86 h1.4"/>
<path d="M984 242.22 h1.4"/>
<path d="M984 273.58 h1.4"/>
<path d="M984 361.6 h1.4"/>
<path d="M2.18 560.5 v2.6"/>
<path d="M63.61 560.5 v2.6"/>
<path d="M125.05 560.5 v2.6"/>
<path d="M186.48 560.5 v2.6"/>
<path d="M247.92 560.5 v2.6"/>
<path d="M309.35 560.5 v2.6"/>
<path d="M370.78 560.5 v2.6"/>
<path d="M432.22 560.5 v2.6"/>
<path d="M493.65 560.5 v2.6"/>
<path d="M555.09 560.5 v2.6"/>
<path d="M616.52 560.5 v2.6"/>
<path d="M677.95 560.5 v2.6"/>
<path d="M739.39 560.5 v2.6"/>
<path d="M800.82 560.5 v2.6"/>
<path d="M862.26 560.5 v2.6"/>
<path d="M923.69 560.5 v2.6"/>
</g>
<rect x="983.5" y="108.6" width="36.6" height="8.9" fill="#000"/>
<rect x="984.1" y="451.2" width="10.6" height="8.9" fill="#ff0000"/>
<rect x="984.1" y="510.5" width="10.6" height="8.9" fill="#ff0000"/>
<g font-family="Liberation Sans, sans-serif" font-size="8.5px" fill="#1e1e1e">
<text x="987.6" y="25.6" textLength="29.17" lengthAdjust="spacingAndGlyphs">159.210</text>
<text x="987.6" y="56.96" textLength="29.17" lengthAdjust="spacingAndGlyphs">158.110</text>
<text x="987.6" y="88.32" textLength="29.17" lengthAdjust="spacingAndGlyphs">157.030</text>
<text x="987.6" y="119.68" textLength="29.17" lengthAdjust="spacingAndGlyphs">155.930</text>
<text x="987.6" y="151.04" textLength="29.17" lengthAdjust="spacingAndGlyphs">154.830</text>
<text x="987.6" y="182.4" textLength="29.17" lengthAdjust="spacingAndGlyphs">153.730</text>
<text x="987.6" y="213.76" textLength="29.17" lengthAdjust="spacingAndGlyphs">152.630</text>
<text x="987.6" y="245.12" textLength="29.17" lengthAdjust="spacingAndGlyphs">151.530</text>
<text x="987.6" y="276.48" textLength="29.17" lengthAdjust="spacingAndGlyphs">150.450</text>
<text x="987.6" y="116.2" textLength="29.17" lengthAdjust="spacingAndGlyphs" fill="#fff">156.047</text>
<text x="985.6" y="295.9" textLength="29.17" lengthAdjust="spacingAndGlyphs">1.49928</text>
<text x="985.8" y="364.9" textLength="15.82" lengthAdjust="spacingAndGlyphs">0.00</text>
<text x="985.8" y="406.6" textLength="32.13" lengthAdjust="spacingAndGlyphs">-0.93843</text>
<text x="985.6" y="418.8" textLength="13.35" lengthAdjust="spacingAndGlyphs">100</text>
<text x="985.8" y="559.1" textLength="4.45" lengthAdjust="spacingAndGlyphs">0</text>
<text x="984.9" y="458.8" textLength="8.9" lengthAdjust="spacingAndGlyphs" fill="#fff">70</text>
<text x="984.9" y="518.1" textLength="8.9" lengthAdjust="spacingAndGlyphs" fill="#fff">30</text>
<text x="4.5" y="11.1" textLength="60.9" lengthAdjust="spacingAndGlyphs">USDJPY_MT,Daily</text>
<text x="70.6" y="11.1" textLength="29.17" lengthAdjust="spacingAndGlyphs">156.037</text>
<text x="102.7" y="11.1" textLength="29.17" lengthAdjust="spacingAndGlyphs">156.233</text>
<text x="134.9" y="11.1" textLength="29.17" lengthAdjust="spacingAndGlyphs">155.539</text>
<text x="167" y="11.1" textLength="29.17" lengthAdjust="spacingAndGlyphs">156.047</text>
<text x="3.9" y="296.7" textLength="34.6" lengthAdjust="spacingAndGlyphs">JFX-MACD</text>
<text x="41.6" y="296.7" textLength="32.13" lengthAdjust="spacingAndGlyphs">-0.00778</text>
<text x="75.9" y="296.7" textLength="32.13" lengthAdjust="spacingAndGlyphs">-0.30561</text>
<text x="4.6" y="419.8" textLength="26.6" lengthAdjust="spacingAndGlyphs">RSI(14)</text>
<text x="33.8" y="419.8" textLength="29.17" lengthAdjust="spacingAndGlyphs">54.5135</text>
<text x="1.58" y="570.9" textLength="44.05" lengthAdjust="spacingAndGlyphs">20 Oct 2025</text>
<text x="63.01" y="570.9" textLength="44.05" lengthAdjust="spacingAndGlyphs">28 Oct 2025</text>
<text x="124.45" y="570.9" textLength="41.27" lengthAdjust="spacingAndGlyphs">5 Nov 2025</text>
<text x="185.88" y="570.9" textLength="45.72" lengthAdjust="spacingAndGlyphs">13 Nov 2025</text>
<text x="247.32" y="570.9" textLength="45.72" lengthAdjust="spacingAndGlyphs">21 Nov 2025</text>
<text x="308.75" y="570.9" textLength="40.92" lengthAdjust="spacingAndGlyphs">1 Dec 2025</text>
<text x="370.18" y="570.9" textLength="40.92" lengthAdjust="spacingAndGlyphs">9 Dec 2025</text>
<text x="431.62" y="570.9" textLength="45.37" lengthAdjust="spacingAndGlyphs">17 Dec 2025</text>
<text x="493.05" y="570.9" textLength="45.37" lengthAdjust="spacingAndGlyphs">25 Dec 2025</text>
<text x="554.49" y="570.9" textLength="39.58" lengthAdjust="spacingAndGlyphs">5 Jan 2026</text>
<text x="615.92" y="570.9" textLength="44.03" lengthAdjust="spacingAndGlyphs">13 Jan 2026</text>
<text x="677.35" y="570.9" textLength="44.03" lengthAdjust="spacingAndGlyphs">21 Jan 2026</text>
<text x="738.79" y="570.9" textLength="44.03" lengthAdjust="spacingAndGlyphs">29 Jan 2026</text>
<text x="800.22" y="570.9" textLength="40.39" lengthAdjust="spacingAndGlyphs">6 Feb 2026</text>
<text x="861.66" y="570.9" textLength="44.84" lengthAdjust="spacingAndGlyphs">16 Feb 2026</text>
<text x="923.09" y="570.9" textLength="44.84" lengthAdjust="spacingAndGlyphs">24 Feb 2026</text>
</g>
</svg>
</body></html>
